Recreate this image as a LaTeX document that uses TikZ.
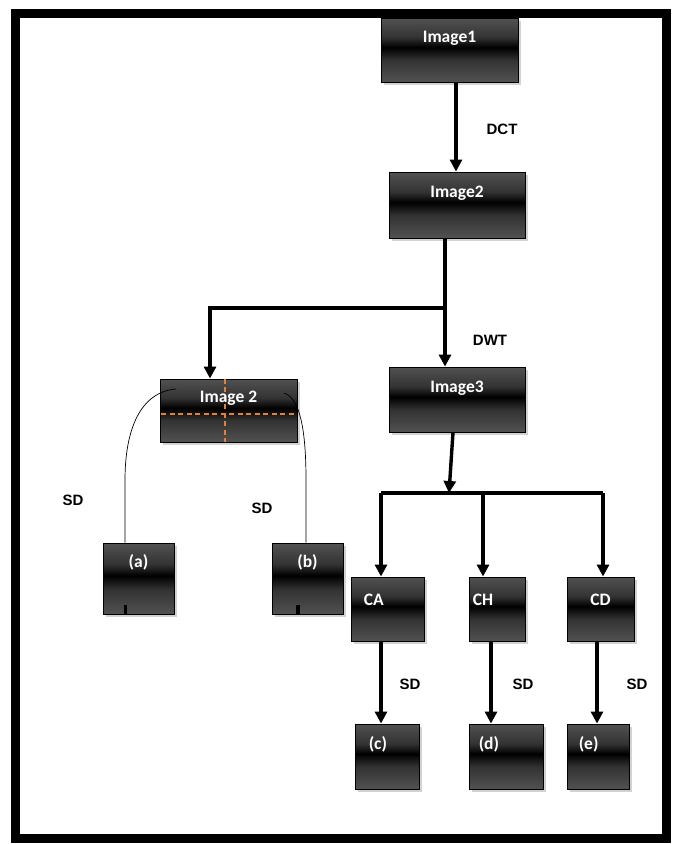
\documentclass[tikz,border=0pt]{standalone}
\usepackage{fontspec}
\setmainfont{Liberation Sans}
\newfontfamily\boxfont{Carlito}
\usetikzlibrary{arrows.meta,shadows,calc}
\definecolor{dashorange}{RGB}{225,130,60}
\pgfdeclareverticalshading{boxshade}{100bp}{
  color(0bp)=(black!60); color(25bp)=(black!68); color(42bp)=(black!80);
  color(52bp)=(black); color(60bp)=(black!80); color(75bp)=(black!68); color(100bp)=(black!58)}
\begin{document}
\begin{tikzpicture}[x=1pt,y=-1pt,
  box/.style={draw=black, line width=0.9pt, shading=boxshade, inner sep=0pt,
    drop shadow={opacity=0.35, shadow xshift=3pt, shadow yshift=-3pt}},
  boxtext/.style={text=white, font=\boxfont\bfseries\fontsize{17.5}{19}\selectfont, inner sep=0pt},
  lbl/.style={font=\bfseries\fontsize{15}{17}\selectfont, inner sep=0pt},
  arr/.style={line width=3.4pt, -{Triangle[length=12pt,width=12pt]}},
  ln/.style={line width=3.4pt},
  thin/.style={line width=0.7pt},
  orangedash/.style={draw=dashorange, line width=1.6pt, dash pattern=on 5pt off 3.5pt}]
\useasboundingbox (0,0) rectangle (676,844);
\fill[white] (0,0) rectangle (676,844);
\draw[line width=9pt] (15.5,13) rectangle (666.5,838);

% main chain
\node[box, minimum width=137pt, minimum height=64pt] (img1) at (449.5,50) {};
\node[boxtext] (t1) at ([yshift=-21pt]img1.north) {Image1};
\node[box, minimum width=136pt, minimum height=66pt] (img2) at (457,205) {};
\node[boxtext] (t2) at ([yshift=-22pt]img2.north) {Image2};
\node[box, minimum width=136pt, minimum height=65pt] (img3) at (457,399.5) {};
\node[boxtext] (t3) at ([yshift=-22pt]img3.north) {Image3};

% left branch
\node[box, minimum width=137pt, minimum height=63pt] (img2b) at (228.5,410.5) {};
\coordinate (hdl) at (161,414);
\coordinate (hdr) at (296,414);
\draw[orangedash] (hdl) -- (hdr);
\draw[orangedash] ([xshift=-3.5pt]img2b.north) -- ([xshift=-3.5pt]img2b.south);
\node[boxtext] (t2b) at ([yshift=-20pt]img2b.north) {Image 2};

\node[box, minimum width=71pt, minimum height=71pt] (a) at (138.5,578.5) {};
\node[boxtext] (ta) at ([yshift=-20pt]a.north) {(a)};
\node[box, minimum width=71pt, minimum height=71pt] (b) at (307.5,578.5) {};
\node[boxtext] (tb) at ([yshift=-20pt]b.north) {(b)};
\draw[line width=3.5pt] ([xshift=-13pt]a.south) -- ++(0,-9);
\draw[line width=3.5pt] ([xshift=-9.5pt]b.south) -- ++(0,-9);

% bottom row
\node[box, minimum width=73pt, minimum height=64pt] (ca) at (387.5,609) {};
\node[boxtext, anchor=west] (tca) at ([xshift=13pt,yshift=-23pt]ca.north west) {CA};
\node[box, minimum width=56pt, minimum height=64pt] (ch) at (497,609) {};
\node[boxtext, anchor=west] (tch) at ([xshift=4pt,yshift=-23pt]ch.north west) {CH};
\node[box, minimum width=67pt, minimum height=64pt] (cd) at (600.5,609) {};
\node[boxtext] (tcd) at ([yshift=-23pt]cd.north) {CD};

\node[box, minimum width=64pt, minimum height=65pt] (c) at (387,756.5) {};
\node[boxtext, anchor=west] (tc) at ([xshift=14pt,yshift=-21pt]c.north west) {(c)};
\node[box, minimum width=74pt, minimum height=65pt] (d) at (506,756.5) {};
\node[boxtext, anchor=west] (td) at ([xshift=10pt,yshift=-21pt]d.north west) {(d)};
\node[box, minimum width=62pt, minimum height=65pt] (e) at (598,756.5) {};
\node[boxtext, anchor=west] (te) at ([xshift=12pt,yshift=-21pt]e.north west) {(e)};

% connectors
\draw[arr] ([xshift=6.5pt]img1.south) -- ([xshift=-1pt]img2.north);
\coordinate (split) at (445,308);
\draw[ln] ([xshift=-12pt]img2.south) -- (split);
\draw[arr] (split) -| ([xshift=-18.5pt]img2b.north);
\draw[arr] (split) -- (split |- img3.north);

\coordinate (hub) at (449,493);
\draw[arr] ([xshift=-4pt]img3.south) -- (hub);
\coordinate (hl) at (381,493);
\coordinate (hr) at (603,493);
\draw[ln] (hl) -- (hr);
\draw[arr] (hl) -- (hl |- ca.north);
\draw[arr] (483,493) -- (483,0 |- ch.north);
\draw[arr] (hr) -- (hr |- cd.north);

\draw[arr] (381,0 |- ca.south) -- (381,0 |- c.north);
\draw[arr] (491,0 |- ch.south) -- (491,0 |- d.north);
\draw[arr] (597,0 |- cd.south) -- (597,0 |- e.north);

% SD curves
\coordinate (cl) at (176,389);
\coordinate (cr) at (284,393);
\draw[thin] (cl) .. controls (140,392) and (125,430) .. (125,480) -- ([xshift=-13.5pt]a.north);
\draw[thin] (cr) .. controls (300,398) and (306,430) .. (306,480) -- ([xshift=-1.5pt]b.north);

% labels
\node[lbl] (dct) at (502,129) {DCT};
\node[lbl] (dwt) at (490,340) {DWT};
\node[lbl] (sd1) at (73,500) {SD};
\node[lbl] (sd2) at (262,508) {SD};
\node[lbl] (sd3) at (410,684) {SD};
\node[lbl] (sd4) at (523,684) {SD};
\node[lbl] (sd5) at (637,684) {SD};
\end{tikzpicture}
\end{document}
